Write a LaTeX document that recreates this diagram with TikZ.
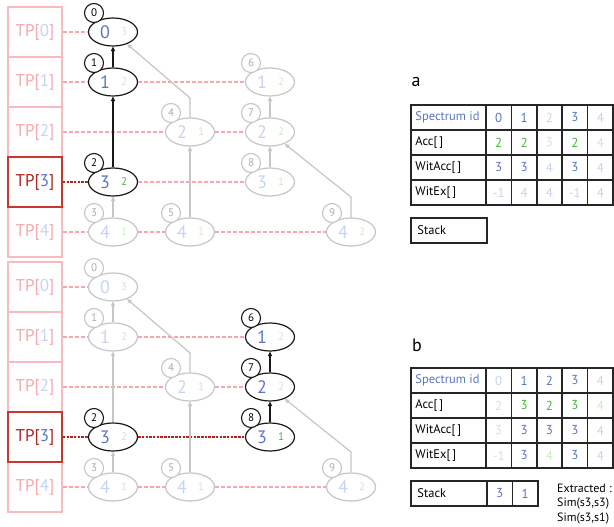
\documentclass[tikz,border=0pt]{standalone}
\usepackage{fontspec}
\setmainfont{PT Sans}
\usetikzlibrary{arrows.meta,shapes.geometric}
\definecolor{tppink}{HTML}{F5A8AF}
\definecolor{boxpink}{HTML}{F8BCC0}
\definecolor{dashpink}{HTML}{F6A6AC}
\definecolor{dred}{HTML}{B3221E}
\definecolor{boxred}{HTML}{C8372F}
\definecolor{nblue}{HTML}{5A76C4}
\definecolor{lblue}{HTML}{C6D4F2}
\definecolor{ngreen}{HTML}{46B53A}
\definecolor{lgreen}{HTML}{C9EDBF}
\definecolor{lgray}{HTML}{C6C6C6}
\definecolor{tgray}{HTML}{ABABAB}
\tikzset{
  ellbase/.style={ellipse, minimum width=49pt, minimum height=28pt, inner sep=0pt, fill=white, line width=1.2pt},
  ellA/.style={ellbase, draw=black!90},
  ellP/.style={ellbase, draw=lgray},
  bdgbase/.style={circle, minimum size=19pt, inner sep=0pt, fill=white, line width=1.1pt, font=\fontsize{11}{11}\selectfont},
  bdgA/.style={bdgbase, draw=black!90, text=black},
  bdgP/.style={bdgbase, draw=lgray, text=tgray},
  mainnum/.style={inner sep=0pt, font=\fontsize{18}{18}\selectfont},
  smallnum/.style={inner sep=0pt, font=\fontsize{11}{11}\selectfont},
  tip/.style={-{Triangle[length=4.5pt,width=4pt]}},
  edgeA/.style={tip, draw=black!90, line width=1.2pt},
  edgeP/.style={tip, draw=lgray, line width=1.2pt},
  pdash/.style={draw=dashpink, line width=1.3pt, dash pattern=on 4pt off 2pt},
  rdash/.style={draw=dred, line width=1.3pt, dash pattern=on 2.5pt off 1.2pt},
  tpbox/.style={rectangle, draw=boxpink, line width=1.2pt, minimum width=54pt, minimum height=50pt, inner sep=0pt, font=\fontsize{17}{17}\selectfont},
  tpred/.style={tpbox, draw=boxred, line width=1.6pt},
  cell/.style={draw=black!85, line width=1.5pt, minimum height=25pt, inner sep=0pt, font=\fontsize{13}{13}\selectfont},
  labcell/.style={cell, minimum width=75pt},
  labtext/.style={inner sep=0pt, anchor=west, font=\fontsize{12.5}{12.5}\selectfont},
  numcell/.style={cell, minimum width=25.4pt},
  paneltitle/.style={inner sep=0pt, font=\fontsize{18}{18}\selectfont},
  note/.style={inner sep=0pt, anchor=west, font=\fontsize{12}{12}\selectfont}
}
% tree node: name, x, y, A/P, badge, main, maincolor, small, smallcolor
\newcommand\tn[9]{%
  \node[ell#4] (#1) at (#2,#3) {};
  \node[bdg#4] (#1b) at ([shift={(-19pt,19pt)}]#1.center) {#5};
  \node[mainnum, text=#7] (#1m) at ([xshift=-8pt]#1.center) {#6};
  \node[smallnum, text=#9] (#1s) at ([xshift=11pt]#1.center) {#8};
}
\newcommand\tplab[1]{{\color{tppink}TP[}{\color{lblue}#1}{\color{tppink}]}}
% table row: prefix, y, label, label colour, list value/colour
\newcommand\trow[5]{%
  \node[labcell] (#1l) at (448.5,#2) {};
  \node[labtext, text=#4] (#1t) at ([xshift=5pt]#1l.west) {#3};
  \foreach \v/\c [count=\k] in {#5} {
    \node[numcell, text=\c] (#1\k) at ({486+25.4*(\k-0.5)},#2) {\v};
  }
}
\begin{document}
\begin{tikzpicture}[x=1pt,y=-1pt]
\useasboundingbox[fill=white] (0,0) rectangle (614,527);

% ================= TOP PANEL =================
\node[tpbox] (tp0) at (35,32) {\tplab{0}};
\node[tpbox] (tp1) at (35,82) {\tplab{1}};
\node[tpbox] (tp2) at (35,132) {\tplab{2}};
\node[tpbox] (tp4) at (35,232) {\tplab{4}};
\node[tpred] (tp3) at (35,182) {{\color{dred}TP[}{\color{nblue}3}{\color{dred}]}};

\tn{t0}{113}{32}{A}{0}{0}{nblue}{3}{lgreen}
\tn{t1}{113}{82}{A}{1}{1}{nblue}{2}{lgreen}
\tn{t2}{113}{182}{A}{2}{3}{nblue}{2}{ngreen}
\tn{t3}{113}{232}{P}{3}{4}{lblue}{1}{lgreen}
\tn{t4}{190}{132}{P}{4}{2}{lblue}{1}{lgreen}
\tn{t5}{190}{232}{P}{5}{4}{lblue}{1}{lgreen}
\tn{t6}{270}{82}{P}{6}{1}{lblue}{2}{lgreen}
\tn{t7}{270}{132}{P}{7}{2}{lblue}{2}{lgreen}
\tn{t8}{270}{182}{P}{8}{3}{lblue}{1}{lgreen}
\tn{t9}{351}{232}{P}{9}{4}{lblue}{2}{lgreen}

\draw[pdash] (tp0.east) -- (t0);
\draw[pdash] (tp1.east) -- (t1);
\draw[pdash] (t1) -- (t6);
\draw[pdash] (tp2.east) -- (t4);
\draw[pdash] (t4) -- (t7);
\draw[rdash] (tp3.east) -- (t2);
\draw[pdash] (t2) -- (t8);
\draw[pdash] (tp4.east) -- (t3);
\draw[pdash] (t3) -- (t5);
\draw[pdash] (t5) -- (t9);

\coordinate (tk4) at (190,98);
\coordinate (tk9) at (351,197);
\draw[edgeA] (t1) -- (t0);
\draw[edgeA] (t2) -- (t1);
\draw[edgeP] (t3) -- (t2);
\draw[edgeP] (t5) -- (t4);
\draw[edgeP] (t4.north) -- (tk4) -- (t0);
\draw[edgeP] (t7) -- (t6);
\draw[edgeP] (t8) -- (t7);
\draw[edgeP] (t9.north) -- (tk9) -- (t7);

% ================= BOTTOM PANEL =================
\node[tpbox] (bp0) at (35,287) {\tplab{0}};
\node[tpbox] (bp1) at (35,337) {\tplab{1}};
\node[tpbox] (bp2) at (35,387) {\tplab{2}};
\node[tpbox] (bp4) at (35,487) {\tplab{4}};
\node[tpred] (bp3) at (35,437) {{\color{dred}TP[}{\color{nblue}3}{\color{dred}]}};

\tn{b0}{113}{287}{P}{0}{0}{lblue}{3}{lgreen}
\tn{b1}{113}{337}{P}{1}{1}{lblue}{2}{lgreen}
\tn{b2}{113}{437}{A}{2}{3}{nblue}{2}{lgreen}
\tn{b3}{113}{487}{P}{3}{4}{lblue}{1}{lgreen}
\tn{b4}{190}{387}{P}{4}{2}{lblue}{1}{lgreen}
\tn{b5}{190}{487}{P}{5}{4}{lblue}{1}{lgreen}
\tn{b6}{270}{337}{A}{6}{1}{nblue}{2}{lgreen}
\tn{b7}{270}{387}{A}{7}{2}{nblue}{2}{lgreen}
\tn{b8}{270}{437}{A}{8}{3}{nblue}{1}{ngreen}
\tn{b9}{351}{487}{P}{9}{4}{lblue}{2}{lgreen}

\draw[pdash] (bp0.east) -- (b0);
\draw[pdash] (bp1.east) -- (b1);
\draw[pdash] (b1) -- (b6);
\draw[pdash] (bp2.east) -- (b4);
\draw[pdash] (b4) -- (b7);
\draw[rdash] (bp3.east) -- (b2);
\draw[rdash] (b2) -- (b8);
\draw[pdash] (bp4.east) -- (b3);
\draw[pdash] (b3) -- (b5);
\draw[pdash] (b5) -- (b9);

\coordinate (bk4) at (190,353);
\coordinate (bk9) at (351,452);
\draw[edgeP] (b1) -- (b0);
\draw[edgeP] (b2) -- (b1);
\draw[edgeP] (b3) -- (b2);
\draw[edgeP] (b5) -- (b4);
\draw[edgeP] (b4.north) -- (bk4) -- (b0);
\draw[edgeA] (b7) -- (b6);
\draw[edgeA] (b8) -- (b7);
\draw[edgeP] (b9.north) -- (bk9) -- (b7);

% ================= TABLE a =================
\node[paneltitle] (ta) at (416,82) {a};
\trow{ar0}{117.5}{Spectrum id}{nblue}{0/nblue,1/nblue,2/lblue,3/nblue,4/lblue}
\trow{ar1}{142.5}{Acc[\,]}{black}{2/ngreen,2/ngreen,3/lgreen,2/ngreen,4/lgreen}
\trow{ar2}{167.5}{WitAcc[\,]}{black}{3/nblue,3/nblue,4/lblue,3/nblue,4/lblue}
\trow{ar3}{192.5}{WitEx[\,]}{black}{-1/lblue,4/lblue,4/lblue,-1/lblue,4/lblue}
\node[labcell, minimum width=76pt] (astack) at (449,230.5) {};
\node[labtext] (astackt) at ([xshift=7pt]astack.west) {Stack};

% ================= TABLE b =================
\node[paneltitle] (tb) at (417,345) {b};
\trow{br0}{380.5}{Spectrum id}{nblue}{0/lblue,1/nblue,2/nblue,3/nblue,4/lblue}
\trow{br1}{405.5}{Acc[\,]}{black}{2/lgreen,3/ngreen,2/ngreen,3/ngreen,4/lgreen}
\trow{br2}{430.5}{WitAcc[\,]}{black}{3/lgreen,3/nblue,3/nblue,3/nblue,4/lblue}
\trow{br3}{455.5}{WitEx[\,]}{black}{-1/lgreen,3/nblue,4/lgreen,3/nblue,4/lblue}
\node[labcell, minimum width=76pt] (bstack) at (449,493.5) {};
\node[labtext] (bstackt) at ([xshift=7pt]bstack.west) {Stack};
\node[numcell, text=nblue] (bs1) at (499.7,493.5) {3};
\node[numcell, text=nblue] (bs2) at (525.1,493.5) {1};
\node[note] (ex1) at (557,488) {Extracted :};
\node[note] (ex2) at (557,503.5) {Sim(s3,s3)};
\node[note] (ex3) at (557,519) {Sim(s3,s1)};
\end{tikzpicture}
\end{document}
